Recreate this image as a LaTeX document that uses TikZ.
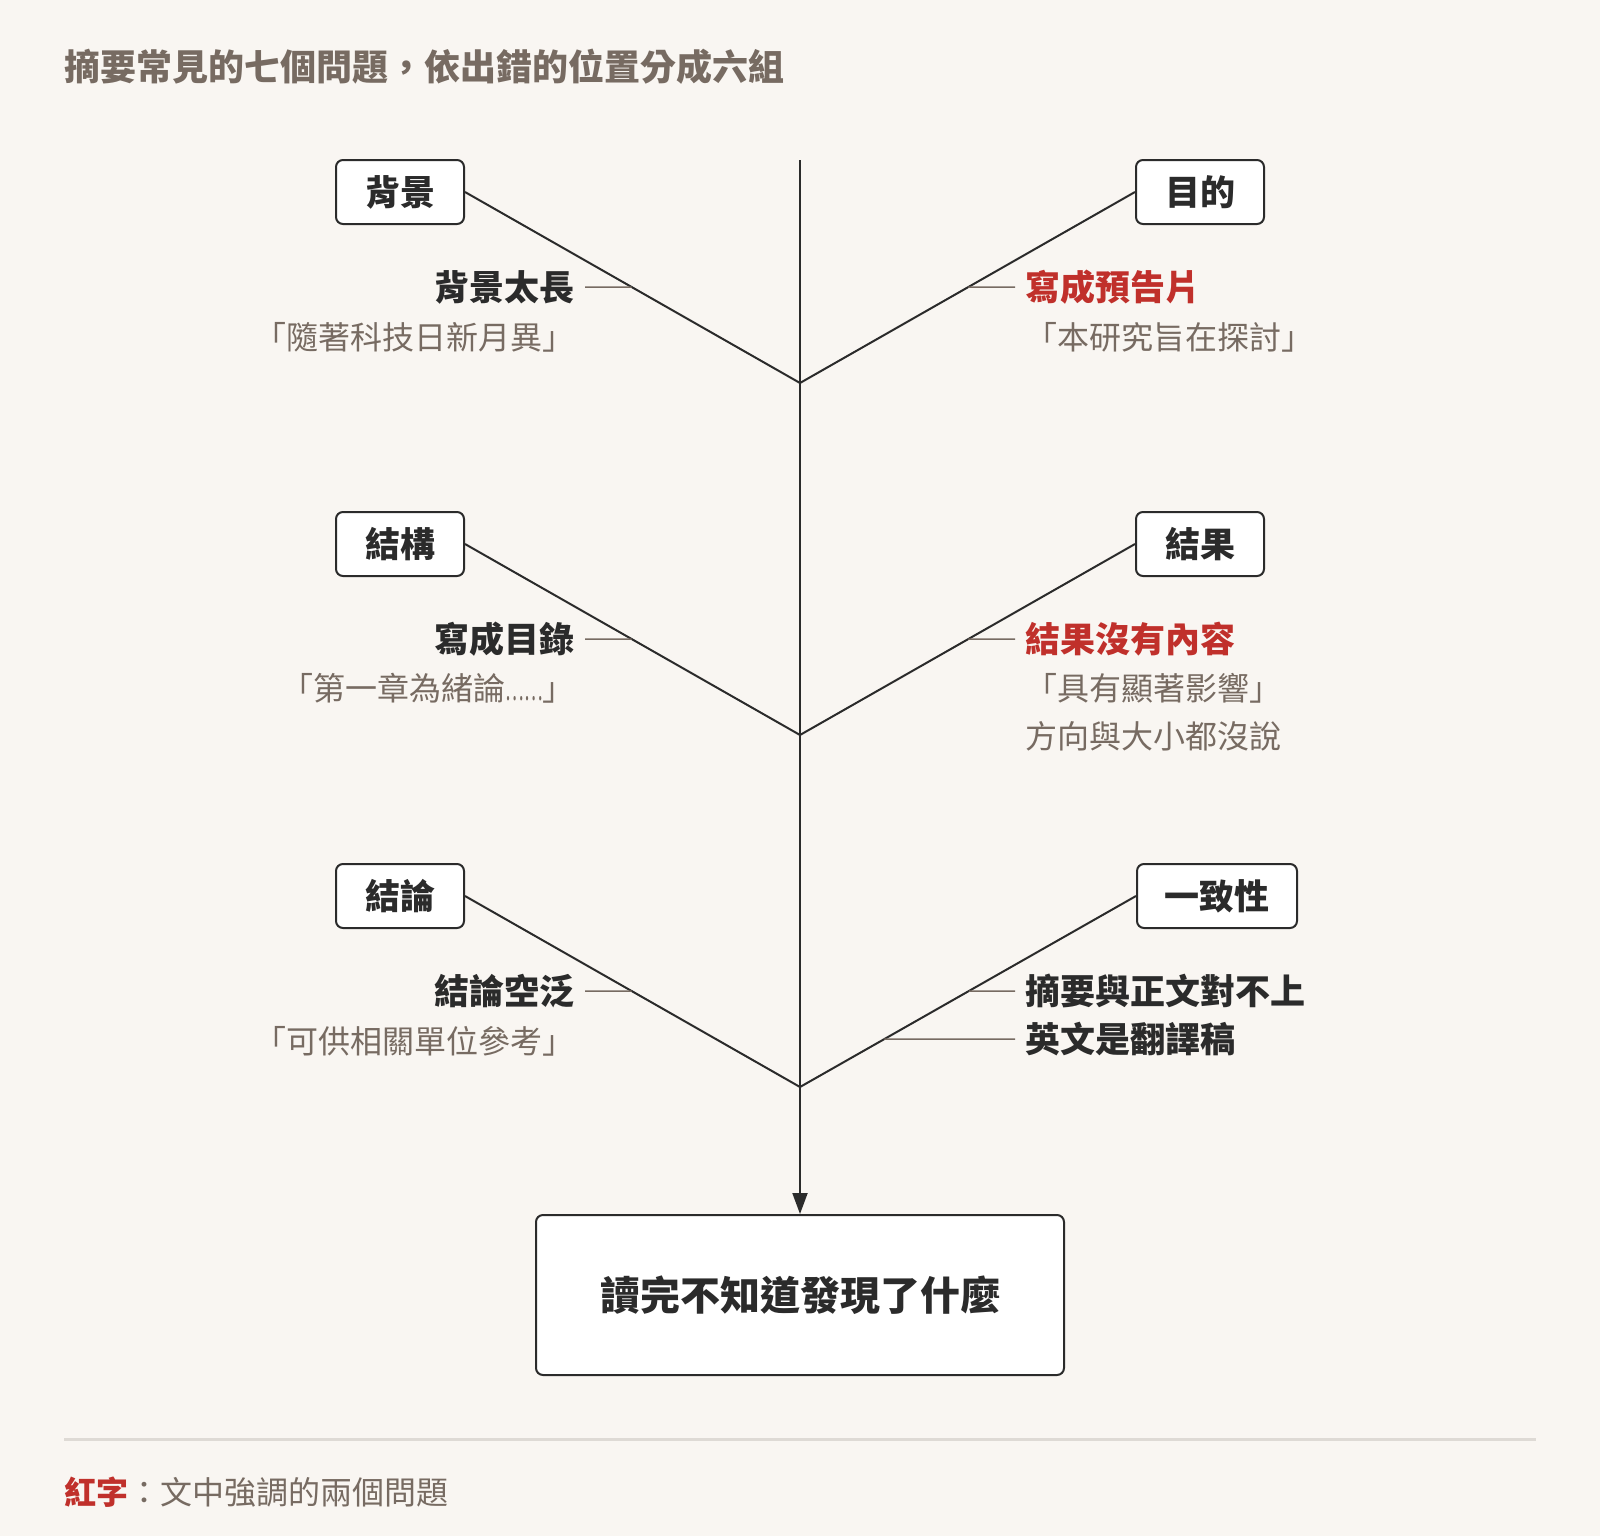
\documentclass[tikz,border=0pt]{standalone}
\usepackage{fontspec}
\usepackage{graphicx}
\setmainfont{Noto Sans CJK TC}
\usetikzlibrary{arrows.meta,calc}
\definecolor{bgc}{HTML}{F9F6F2}
\definecolor{ink}{HTML}{2B2B2B}
\definecolor{muted}{HTML}{776B62}
\definecolor{accent}{HTML}{C0302B}
\definecolor{rulec}{HTML}{DEDAD5}
\begin{document}
\begin{tikzpicture}[x=1pt,y=-1pt,
  catbox/.style={draw=ink, fill=white, line width=2pt, rounded corners=7pt, minimum height=64pt, minimum width=128pt, inner sep=0pt, font=\fontsize{35}{42}\selectfont\bfseries, text=ink},
  goalbox/.style={catbox, minimum width=528pt, minimum height=160pt, font=\fontsize{40}{48}\selectfont\bfseries},
  lbl/.style={inner sep=0pt, font=\fontsize{35}{42}\selectfont\bfseries, text=ink},
  hot/.style={lbl, text=accent},
  sub/.style={inner sep=0pt, font=\fontsize{32}{38}\selectfont, text=muted},
  bone/.style={draw=ink, line width=2pt},
  tickline/.style={draw=muted, line width=1.5pt},
]
\fill[bgc] (0,0) rectangle (1600,1536);
\useasboundingbox (0,0) rectangle (1600,1536);

% title
\node[inner sep=0pt, anchor=west, text=muted, font=\fontsize{36}{42}\selectfont\bfseries] (title) at (64,67) {摘要常見的七個問題，依出錯的位置分成六組};

% spine
\coordinate (top) at (800,160);
\coordinate (j1) at (800,383);
\coordinate (j2) at (800,735);
\coordinate (j3) at (800,1087);
\node[goalbox] (goal) at (800,1295) {讀完不知道發現了什麼};
\draw[bone, -{Triangle[length=21pt,width=15pt]}] (top) -- (goal.north);

% category boxes
\node[catbox] (L1) at (400,192) {背景};
\node[catbox] (L2) at (400,544) {結構};
\node[catbox] (L3) at (400,896) {結論};
\node[catbox] (R1) at (1200,192) {目的};
\node[catbox] (R2) at (1200,544) {結果};
\node[catbox, minimum width=160pt, anchor=west] (R3) at (1136,896) {一致性};

% bones
\draw[bone] (L1.east) -- (j1);
\draw[bone] (R1.west) -- (j1);
\draw[bone] (L2.east) -- (j2);
\draw[bone] (R2.west) -- (j2);
\draw[bone] (L3.east) -- (j3);
\draw[bone] (R3.west) -- (j3);

% points on bones
\coordinate (dL1) at ($(L1.east)!0.4974!(j1)$);
\coordinate (dR1) at ($(R1.west)!0.4974!(j1)$);
\coordinate (dL2) at ($(L2.east)!0.4974!(j2)$);
\coordinate (dR2) at ($(R2.west)!0.4974!(j2)$);
\coordinate (dL3) at ($(L3.east)!0.4974!(j3)$);
\coordinate (dR3) at ($(R3.west)!0.4974!(j3)$);
\coordinate (dR3b) at ($(R3.west)!0.7487!(j3)$);

% row 1
\node[lbl, anchor=east] (a1) at (575,287) {背景太長};
\node[sub, anchor=east] (a1s) at (575,337) {「隨著科技日新月異」};
\draw[tickline] ([xshift=10pt]a1.east) -- (dL1);
\node[hot, anchor=west] (b1) at (1025,287) {寫成預告片};
\node[sub, anchor=west] (b1s) at (1025,337) {「本研究旨在探討」};
\draw[tickline] ([xshift=-10pt]b1.west) -- (dR1);

% row 2
\node[lbl, anchor=east] (a2) at (575,639) {寫成目錄};
\node[sub, anchor=east] (a2s) at (575,688) {「第一章為緒論\scalebox{0.55}[1]{……}」};
\draw[tickline] ([xshift=10pt]a2.east) -- (dL2);
\node[hot, anchor=west] (b2) at (1025,639) {結果沒有內容};
\node[sub, anchor=west] (b2s) at (1025,688) {「具有顯著影響」};
\node[sub, anchor=west] (b2t) at (1025,736) {方向與大小都沒說};
\draw[tickline] ([xshift=-10pt]b2.west) -- (dR2);

% row 3
\node[lbl, anchor=east] (a3) at (575,991) {結論空泛};
\node[sub, anchor=east] (a3s) at (575,1041) {「可供相關單位參考」};
\draw[tickline] ([xshift=10pt]a3.east) -- (dL3);
\node[lbl, anchor=west] (b3) at (1025,991) {摘要與正文對不上};
\node[lbl, anchor=west] (b3b) at (1025,1039) {英文是翻譯稿};
\draw[tickline] ([xshift=-10pt]b3.west) -- (dR3);
\draw[tickline] ([xshift=-10pt]b3b.west) -- (dR3b);

% footer
\draw[rulec, line width=3pt] (64,1439) -- (1536,1439);
\node[inner sep=0pt, anchor=west, text=muted, font=\fontsize{32}{38}\selectfont] (legend) at (64,1492) {{\color{accent}\bfseries 紅字}：文中強調的兩個問題};
\end{tikzpicture}
\end{document}
